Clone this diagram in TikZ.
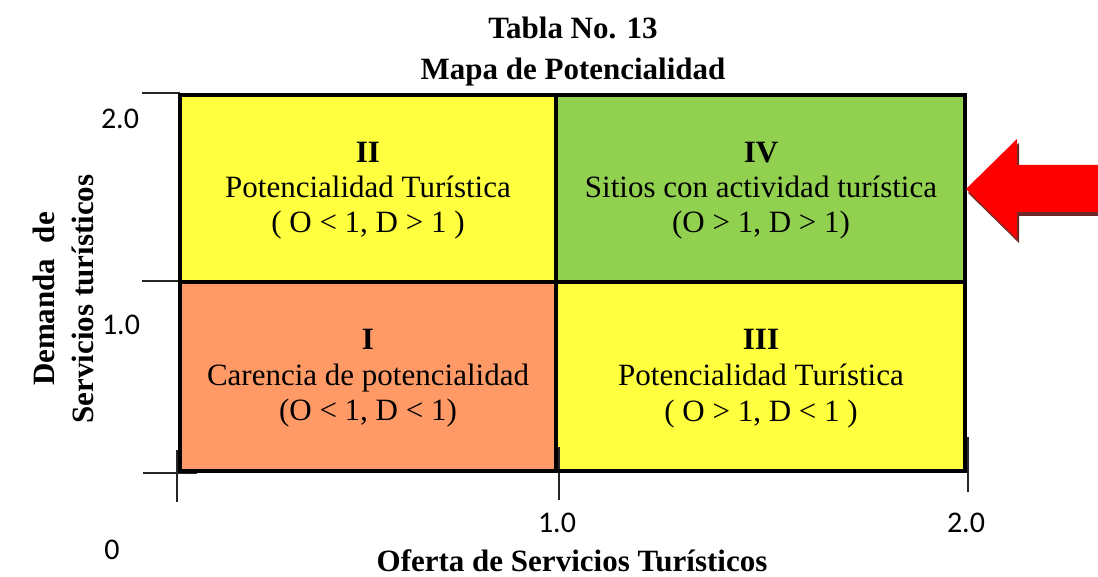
\documentclass[tikz,border=0pt]{standalone}
\usepackage{fontspec}
\setmainfont{Liberation Serif}
\newfontfamily\tickfont{Carlito}
\definecolor{cellyellow}{RGB}{255,255,64}
\definecolor{cellgreen}{RGB}{146,208,80}
\definecolor{cellorange}{RGB}{255,153,102}
\definecolor{arrowred}{RGB}{255,0,0}
\definecolor{arrowshadow}{RGB}{110,40,40}
\begin{document}
\begin{tikzpicture}[x=1pt,y=-1pt,
  txt/.style={font=\fontsize{31}{35.6}\selectfont, inner sep=0pt, anchor=base},
  bold/.style={txt, font=\fontsize{31}{35.6}\selectfont\bfseries},
  tick/.style={font=\tickfont\fontsize{30}{34}\selectfont, inner sep=0pt, anchor=base},
  axisline/.style={line width=1.3pt, black!85},
  border/.style={line width=4pt, black}]
\useasboundingbox (0,0) rectangle (1098,577);
% title
\node[bold] (t1) at (573,39) {Tabla No. 13};
\node[bold] (t2) at (573,80) {Mapa de Potencialidad};
% cells
\fill[cellyellow] (180,95) rectangle (556,282);
\fill[cellgreen] (556,95) rectangle (965,282);
\fill[cellorange] (180,282) rectangle (556,471);
\fill[cellyellow] (556,282) rectangle (965,471);
% axis thin lines
\draw[axisline] (142,93) -- (180,93);
\draw[axisline] (142,281) -- (180,281);
\draw[axisline] (143,473) -- (197,473);
\draw[axisline] (177,450) -- (177,502);
\draw[axisline] (559,447) -- (559,500);
\draw[axisline] (968,437) -- (968,492);
% grid
\draw[border] (180,95) rectangle (965,471);
\draw[line width=3.5pt] (180,282) -- (965,282);
\draw[line width=3.5pt] (556,95) -- (556,471);
% cell II
\node[bold] (c2a) at (368,163) {II};
\node[txt] (c2b) at (368,198) {Potencialidad Turística};
\node[txt] (c2c) at (368,233) {( O < 1, D > 1 )};
% cell IV
\node[bold] (c4a) at (761,163) {IV};
\node[txt] (c4b) at (761,198) {Sitios con actividad turística};
\node[txt] (c4c) at (761,233) {(O > 1, D > 1)};
% cell I
\node[bold] (c1a) at (368,350) {I};
\node[txt] (c1b) at (368,385) {Carencia de potencialidad};
\node[txt] (c1c) at (368,420) {(O < 1, D < 1)};
% cell III
\node[bold] (c3a) at (761,350) {III};
\node[txt] (c3b) at (761,385) {Potencialidad Turística};
\node[txt] (c3c) at (761,421) {( O > 1, D < 1 )};
% ticks
\node[tick] (y2) at (120,129) {2.0};
\node[tick] (y1) at (121,335) {1.0};
\node[tick] (y0) at (112,559) {0};
\node[tick] (x1) at (557,532) {1.0};
\node[tick] (x2) at (966,532) {2.0};
% axis labels
\node[bold, rotate=90] (yl1) at (54,299) {Demanda\ \ de};
\node[bold, rotate=90] (yl2) at (93,299) {Servicios turísticos};
\node[bold] (xl) at (572,571) {Oferta de Servicios Turísticos};
% arrow
\fill[arrowshadow, shift={(2,4)}] (966,189) -- (1017,139) -- (1017,165) -- (1098,165) -- (1098,212) -- (1017,212) -- (1017,239) -- cycle;
\fill[arrowred] (966,189) -- (1017,139) -- (1017,165) -- (1100,165) -- (1100,212) -- (1017,212) -- (1017,239) -- cycle;
\end{tikzpicture}
\end{document}
